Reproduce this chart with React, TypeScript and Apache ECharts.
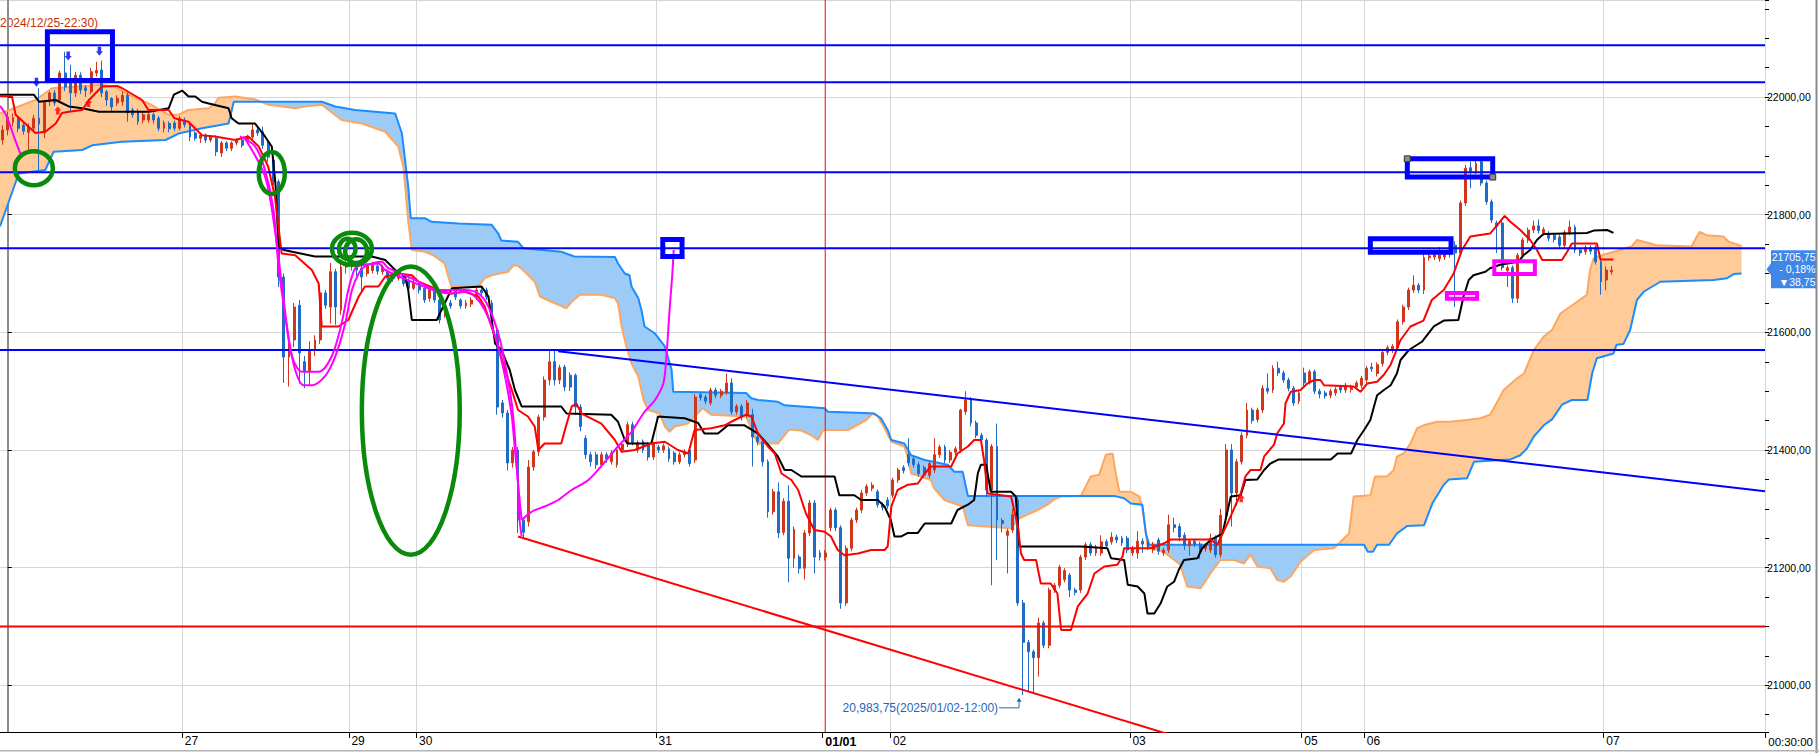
import { useEffect, useRef } from 'react';
import * as echarts from 'echarts';

type Pt = [number, number];

// ── scales (bar index on x, price on y) ──
const PRICE_TOP = 22165;
const PRICE_BOTTOM = 20920.6;
const SLOT_COUNT = 339;
const BAR_FIRST = -1.5;
const BAR_LAST = 337.5;

// time axis
const DAY_LABELS = ['27', '29', '30', '31', '01/01', '02', '03', '05', '06', '07'];
const DAY_START = [34, 66, 79, 125, 157, 170, 216, 249, 261, 307];
const YEAR_MARK = 157;

// candles [open, close, low, high]; the first one is bar -1, cut by the left edge
const CANDLES = [
  [21927, 21944, 21919, 21952],
  [21944, 21966, 21935, 21975], [21957, 21965, 21950, 21972], [21964, 21947, 21940, 21968], [21952, 21942, 21936, 21956],
  [21940, 21949, 21910, 21955], [21947, 21964, 21942, 21970], [21964, 21954, 21873, 22015], [21939, 21992, 21930, 21995],
  [21992, 22007, 21985, 22010], [22007, 21990, 21985, 22012], [21995, 22041, 21990, 22045], [22041, 22017, 22010, 22077],
  [22029, 22007, 21975, 22055], [22007, 22037, 22000, 22043], [22037, 22012, 22005, 22042], [22016, 22011, 22000, 22020],
  [22009, 22043, 22005, 22050], [22041, 22045, 22035, 22060], [22046, 22007, 22000, 22062], [22009, 21995, 21985, 22012],
  [21998, 21983, 21975, 22000], [21990, 21998, 21985, 22003], [21992, 22003, 21985, 22010], [22003, 21973, 21958, 22008],
  [21978, 21970, 21965, 21982], [21975, 21958, 21953, 21980], [21961, 21970, 21955, 21975], [21961, 21970, 21956, 21974],
  [21970, 21961, 21955, 21974], [21964, 21947, 21942, 21968], [21947, 21956, 21940, 21960], [21955, 21946, 21940, 21959],
  [21956, 21947, 21942, 21960], [21947, 21964, 21943, 21968], [21961, 21953, 21948, 21965], [21952, 21932, 21925, 21958],
  [21939, 21930, 21926, 21942], [21930, 21935, 21922, 21938], [21935, 21927, 21922, 21938], [21927, 21932, 21923, 21935],
  [21930, 21907, 21900, 21935], [21905, 21922, 21898, 21925], [21922, 21913, 21908, 21925], [21913, 21922, 21908, 21925],
  [21922, 21927, 21918, 21930], [21927, 21918, 21914, 21930], [21927, 21932, 21922, 21936], [21932, 21944, 21928, 21956],
  [21944, 21939, 21934, 21950], [21941, 21918, 21912, 21950], [21922, 21898, 21890, 21925], [21893, 21856, 21850, 21896],
  [21856, 21694, 21677, 21860], [21694, 21558, 21514, 21700], [21558, 21587, 21508, 21597], [21587, 21643, 21575, 21650],
  [21646, 21565, 21513, 21655], [21550, 21533, 21505, 21560], [21533, 21570, 21510, 21585], [21570, 21587, 21560, 21595],
  [21587, 21667, 21580, 21680], [21667, 21646, 21640, 21672], [21643, 21703, 21615, 21718], [21703, 21643, 21613, 21708],
  [21638, 21711, 21630, 21720], [21711, 21718, 21700, 21725], [21715, 21722, 21705, 21730], [21718, 21706, 21695, 21722],
  [21709, 21694, 21670, 21713], [21700, 21713, 21695, 21718], [21705, 21715, 21700, 21720], [21713, 21704, 21698, 21717],
  [21703, 21711, 21698, 21715], [21703, 21692, 21688, 21707], [21698, 21692, 21686, 21702], [21692, 21701, 21688, 21705],
  [21697, 21683, 21678, 21700], [21689, 21675, 21670, 21692], [21675, 21685, 21672, 21690], [21683, 21672, 21666, 21687],
  [21675, 21655, 21650, 21680], [21658, 21675, 21652, 21680], [21672, 21655, 21650, 21676], [21655, 21621, 21615, 21658],
  [21630, 21645, 21625, 21650], [21650, 21645, 21640, 21655], [21672, 21660, 21655, 21677], [21655, 21645, 21640, 21658],
  [21645, 21650, 21640, 21655], [21648, 21655, 21643, 21660], [21660, 21672, 21655, 21676], [21672, 21667, 21662, 21676],
  [21672, 21660, 21655, 21676], [21650, 21610, 21605, 21655], [21604, 21473, 21460, 21610], [21480, 21463, 21455, 21485],
  [21463, 21378, 21365, 21468], [21378, 21400, 21370, 21405], [21400, 21281, 21259, 21405], [21281, 21260, 21252, 21285],
  [21278, 21371, 21270, 21383], [21371, 21397, 21365, 21400], [21397, 21456, 21390, 21460], [21456, 21519, 21450, 21525],
  [21519, 21550, 21510, 21570], [21550, 21519, 21510, 21570], [21519, 21540, 21512, 21545], [21541, 21507, 21500, 21545],
  [21527, 21507, 21500, 21532], [21527, 21473, 21460, 21530], [21473, 21440, 21432, 21478], [21420, 21392, 21385, 21425],
  [21392, 21380, 21372, 21397], [21392, 21375, 21368, 21397], [21375, 21392, 21370, 21397], [21392, 21385, 21378, 21396],
  [21380, 21395, 21375, 21400], [21375, 21400, 21370, 21405], [21400, 21410, 21395, 21415], [21410, 21443, 21405, 21448],
  [21443, 21413, 21408, 21448], [21400, 21412, 21395, 21416], [21415, 21400, 21395, 21418], [21410, 21388, 21382, 21414],
  [21388, 21410, 21383, 21414], [21405, 21400, 21395, 21409], [21400, 21407, 21395, 21411], [21402, 21385, 21380, 21406],
  [21395, 21380, 21375, 21398], [21380, 21392, 21376, 21396], [21392, 21397, 21387, 21401], [21400, 21377, 21372, 21403],
  [21383, 21490, 21378, 21495], [21494, 21489, 21484, 21498], [21490, 21483, 21478, 21494], [21480, 21502, 21476, 21506],
  [21502, 21493, 21488, 21506], [21493, 21500, 21488, 21504], [21498, 21514, 21494, 21530], [21514, 21465, 21460, 21522],
  [21465, 21474, 21460, 21478], [21474, 21456, 21450, 21478], [21460, 21480, 21455, 21485], [21460, 21422, 21372, 21470],
  [21422, 21414, 21408, 21426], [21414, 21380, 21372, 21418], [21380, 21295, 21285, 21384], [21295, 21329, 21290, 21334],
  [21329, 21259, 21250, 21345], [21260, 21313, 21255, 21318], [21313, 21216, 21175, 21340], [21216, 21265, 21200, 21270],
  [21218, 21199, 21190, 21222], [21199, 21259, 21180, 21264], [21259, 21310, 21254, 21315], [21310, 21218, 21190, 21315],
  [21225, 21218, 21212, 21230], [21218, 21225, 21212, 21230], [21268, 21298, 21262, 21302], [21298, 21268, 21262, 21302],
  [21268, 21140, 21130, 21272], [21140, 21233, 21135, 21238], [21233, 21281, 21228, 21285], [21281, 21298, 21276, 21302],
  [21298, 21327, 21293, 21332], [21327, 21338, 21322, 21342], [21335, 21340, 21330, 21345], [21329, 21307, 21302, 21333],
  [21307, 21302, 21297, 21311], [21315, 21305, 21300, 21320], [21323, 21349, 21318, 21353], [21349, 21366, 21344, 21370],
  [21370, 21365, 21360, 21374], [21392, 21378, 21372, 21420], [21385, 21375, 21370, 21390], [21375, 21360, 21355, 21380],
  [21370, 21357, 21352, 21374], [21357, 21377, 21352, 21382], [21366, 21392, 21361, 21420], [21392, 21405, 21387, 21409],
  [21405, 21383, 21378, 21409], [21383, 21396, 21378, 21400], [21396, 21402, 21391, 21406], [21400, 21468, 21395, 21470],
  [21465, 21485, 21460, 21500], [21485, 21446, 21440, 21490], [21446, 21425, 21420, 21450], [21425, 21417, 21412, 21429],
  [21417, 21332, 21320, 21420], [21332, 21406, 21170, 21410], [21406, 21281, 21213, 21445], [21280, 21275, 21260, 21284],
  [21255, 21262, 21190, 21266], [21264, 21290, 21259, 21300], [21315, 21140, 21135, 21320], [21140, 21073, 20983.75, 21145],
  [21073, 21057, 20990, 21077], [21057, 21047, 20985, 21061], [21047, 21106, 21015, 21115], [21106, 21068, 21063, 21110],
  [21068, 21162, 21063, 21166], [21162, 21170, 21157, 21174], [21170, 21201, 21165, 21205], [21180, 21195, 21175, 21199],
  [21187, 21162, 21150, 21191], [21162, 21158, 21153, 21166], [21162, 21218, 21157, 21222], [21218, 21239, 21213, 21243],
  [21239, 21225, 21220, 21243], [21225, 21235, 21220, 21239], [21225, 21244, 21220, 21255], [21244, 21237, 21232, 21248],
  [21244, 21252, 21239, 21260], [21252, 21247, 21242, 21256], [21250, 21242, 21237, 21254], [21250, 21230, 21225, 21254],
  [21225, 21233, 21220, 21237], [21225, 21245, 21215, 21262], [21245, 21240, 21225, 21250], [21243, 21235, 21230, 21247],
  [21230, 21240, 21225, 21244], [21247, 21228, 21222, 21251], [21225, 21230, 21220, 21234], [21230, 21273, 21225, 21290],
  [21273, 21268, 21260, 21285], [21270, 21252, 21245, 21275], [21255, 21238, 21230, 21260], [21237, 21245, 21220, 21248],
  [21245, 21240, 21235, 21249], [21240, 21230, 21215, 21244], [21232, 21238, 21227, 21242], [21230, 21250, 21225, 21258],
  [21250, 21222, 21217, 21255], [21222, 21289, 21217, 21300], [21289, 21400, 21284, 21410], [21400, 21327, 21270, 21410],
  [21327, 21380, 21305, 21385], [21380, 21425, 21375, 21430], [21425, 21468, 21420, 21480], [21468, 21450, 21445, 21472],
  [21452, 21468, 21447, 21472], [21468, 21505, 21463, 21510], [21505, 21500, 21495, 21530], [21502, 21539, 21497, 21544],
  [21539, 21531, 21526, 21550], [21531, 21519, 21514, 21535], [21519, 21505, 21500, 21523], [21505, 21480, 21475, 21509],
  [21483, 21497, 21478, 21501], [21531, 21514, 21509, 21540], [21516, 21533, 21511, 21537], [21533, 21500, 21495, 21537],
  [21500, 21495, 21488, 21504], [21497, 21492, 21487, 21501], [21493, 21500, 21488, 21504], [21497, 21503, 21492, 21507],
  [21507, 21502, 21497, 21511], [21502, 21510, 21497, 21514], [21503, 21507, 21498, 21511], [21507, 21514, 21502, 21518],
  [21510, 21522, 21505, 21526], [21519, 21539, 21514, 21543], [21541, 21538, 21533, 21548], [21530, 21545, 21525, 21549],
  [21547, 21566, 21542, 21570], [21566, 21574, 21561, 21578], [21570, 21576, 21565, 21580], [21574, 21618, 21569, 21622],
  [21618, 21643, 21613, 21647], [21643, 21672, 21638, 21676], [21672, 21680, 21667, 21697], [21680, 21672, 21667, 21684],
  [21672, 21727, 21665, 21735], [21727, 21730, 21722, 21734], [21728, 21732, 21723, 21736], [21725, 21732, 21720, 21745],
  [21728, 21735, 21723, 21740], [21732, 21740, 21727, 21752], [21748, 21735, 21643, 21755], [21735, 21820, 21730, 21824],
  [21820, 21879, 21815, 21885], [21880, 21874, 21845, 21890], [21874, 21887, 21869, 21892], [21890, 21854, 21849, 21895],
  [21854, 21822, 21817, 21858], [21822, 21791, 21786, 21826], [21786, 21780, 21735, 21790], [21786, 21710, 21705, 21790],
  [21705, 21710, 21677, 21714], [21710, 21658, 21650, 21714], [21658, 21731, 21650, 21735], [21731, 21757, 21726, 21761],
  [21757, 21774, 21752, 21778], [21774, 21781, 21769, 21790], [21781, 21773, 21768, 21792], [21769, 21775, 21764, 21779],
  [21768, 21760, 21755, 21772], [21765, 21758, 21753, 21769], [21762, 21748, 21743, 21766], [21748, 21770, 21743, 21774],
  [21770, 21779, 21765, 21790], [21779, 21740, 21735, 21783], [21740, 21735, 21730, 21744], [21737, 21744, 21732, 21748],
  [21744, 21738, 21733, 21748], [21744, 21720, 21715, 21748], [21720, 21686, 21664, 21724], [21689, 21706, 21672, 21712],
  [21703, 21705.75, 21698, 21713],
];

// Ichimoku lines as [bar, price] break points
const TENKAN: Pt[] = [
  [-1.5, 22002], [0.8, 22001], [1.5, 21970], [5.3, 21939], [7.2, 21941], [9.2, 21955], [10.4, 21973], [11.7, 21975],
  [14.3, 21978], [15.6, 21995], [18.1, 22018], [21, 22019], [22, 22015], [25.8, 21995], [27, 21978], [30.9, 21978],
  [32, 21964], [34.7, 21958], [37.3, 21935], [39.8, 21933], [43.7, 21927], [46.2, 21933], [48.2, 21916], [50, 21882],
  [51.3, 21831], [52.6, 21734], [55.2, 21731], [58.4, 21706], [59.7, 21683], [60.3, 21610], [63.5, 21610], [65.4, 21621],
  [67.4, 21661], [68.6, 21678], [71.2, 21678], [72.5, 21695], [75, 21700], [77.6, 21697], [78.9, 21686], [82.7, 21672],
  [85.2, 21666], [87.8, 21669], [90.4, 21661], [91.6, 21644], [92.9, 21610], [94.2, 21576], [95.5, 21536], [96.8, 21502],
  [98, 21468], [99.9, 21457], [101.2, 21440], [101.9, 21400], [103.1, 21411], [106.3, 21411], [107, 21434], [108.3, 21474],
  [109.2, 21479], [110.2, 21462], [114, 21445], [116.6, 21417], [117.9, 21397], [120.4, 21400], [123.6, 21411],
  [126.2, 21414], [128.7, 21400], [130.7, 21394], [131.9, 21434], [135.1, 21437], [137.7, 21442], [139.6, 21451],
  [141.8, 21460], [142.8, 21457], [144.1, 21428], [146, 21406], [147.3, 21394], [148.6, 21360], [150.5, 21349],
  [151.8, 21332], [153.3, 21292], [154.9, 21264], [156.9, 21261], [158.1, 21253], [159.4, 21230], [160.7, 21221],
  [163.3, 21224], [165.8, 21230], [168.4, 21230], [169, 21236], [169.7, 21304], [170.9, 21332], [172.9, 21341],
  [174.8, 21343], [176.1, 21360], [177.3, 21372], [181.2, 21372], [182.4, 21394], [184.4, 21406], [185.6, 21417],
  [186.9, 21417], [187.5, 21383], [188.2, 21326], [192.7, 21321], [194, 21270], [194.6, 21224], [195.2, 21213],
  [197.5, 21213], [198.4, 21173], [200.3, 21173], [201.6, 21156], [202.3, 21094], [204.2, 21094], [205.5, 21134],
  [207.4, 21156], [208.7, 21190], [210.6, 21202], [213.1, 21205], [214.1, 21219], [214.4, 21233], [219.5, 21233],
  [222, 21241], [223.4, 21248], [231, 21248], [232.3, 21239], [234.5, 21280], [236.8, 21326], [237.7, 21355],
  [238.7, 21366], [240.6, 21366], [241.3, 21389], [243.2, 21409], [243.8, 21428], [245.1, 21445], [245.4, 21479],
  [246.4, 21499], [248.3, 21502], [249.6, 21513], [250.9, 21519], [252.1, 21519], [252.8, 21510], [258.5, 21508],
  [259.8, 21499], [261.1, 21513], [263, 21516], [264.3, 21528], [265.6, 21545], [267.5, 21587], [269.4, 21610],
  [271.9, 21620], [273.5, 21655], [275.8, 21672], [277.7, 21700], [279.3, 21740], [280.9, 21763], [284.7, 21768],
  [286.3, 21785], [287.5, 21798], [288.6, 21788], [290.5, 21774], [292.4, 21757], [293.7, 21740], [294.7, 21723],
  [298.5, 21723], [299.5, 21737], [300.4, 21751], [305.2, 21751], [305.9, 21724], [308.4, 21724],
];

const KIJUN: Pt[] = [
  [-1.5, 22004], [5, 22004], [6, 21992], [9.2, 21995], [11.7, 21984], [14.3, 21981], [17.5, 21975], [27.1, 21975],
  [30.9, 21981], [31.9, 22004], [33.5, 22011], [34.7, 22001], [36, 22001], [37.3, 21992], [38.6, 21989], [42.4, 21981],
  [43, 21964], [44.3, 21955], [47.5, 21955], [49.4, 21933], [50.7, 21916], [51.4, 21853], [52, 21746], [53, 21740],
  [59, 21729], [69.9, 21729], [72.5, 21723], [74.4, 21706], [76.3, 21695], [76.9, 21672], [77.6, 21621], [82.4, 21621],
  [83.3, 21638], [85.3, 21675], [91, 21678], [92.3, 21661], [93.6, 21581], [94.8, 21570], [96.4, 21536], [97.4, 21502],
  [98.7, 21474], [106.3, 21474], [107.3, 21462], [115.9, 21460], [117.2, 21448], [118.5, 21417], [119.1, 21411],
  [123.6, 21411], [124.9, 21457], [130, 21454], [132.6, 21446], [133.8, 21428], [136.4, 21428], [138.3, 21442],
  [141.5, 21442], [144.1, 21428], [146, 21409], [147.9, 21389], [149.2, 21366], [150.5, 21366], [152.4, 21355],
  [158.8, 21355], [159.7, 21323], [162.6, 21323], [163.9, 21315], [167.1, 21315], [168.4, 21304], [169.6, 21281],
  [170.3, 21253], [171.6, 21253], [172.9, 21259], [174.8, 21259], [176.1, 21275], [181.2, 21275], [182.4, 21298],
  [184.4, 21307], [185.6, 21315], [186.3, 21360], [186.9, 21375], [187.9, 21375], [188.8, 21329], [192.7, 21329],
  [193.6, 21321], [194.3, 21236], [206.1, 21236], [211.2, 21233], [211.9, 21216], [214.4, 21213], [215.1, 21171],
  [217, 21168], [218.3, 21156], [218.9, 21122], [220.2, 21122], [221.4, 21139], [222.7, 21168], [224, 21176],
  [224.9, 21196], [225.9, 21213], [228.5, 21216], [229.4, 21233], [231, 21247], [233.3, 21258], [234.9, 21321],
  [236.8, 21323], [237.7, 21349], [240, 21350], [241.3, 21366], [242.5, 21377], [244.1, 21384], [254.1, 21384],
  [255.4, 21394], [258, 21394], [259.2, 21417], [260.5, 21434], [261.7, 21451], [262.4, 21474], [263, 21493],
  [264.3, 21502], [265.6, 21510], [266.8, 21530], [267.5, 21553], [269.1, 21570], [271.6, 21584], [273.9, 21610],
  [275.8, 21620], [278.6, 21621], [279.6, 21661], [280.6, 21689], [281.5, 21697], [283.8, 21703], [284.7, 21709],
  [286.6, 21715], [290.1, 21720], [291.1, 21731], [292.4, 21740], [293.7, 21757], [294.9, 21767], [303.3, 21769],
  [304.6, 21773], [307.2, 21774], [308.4, 21769],
];

const SPAN_A: Pt[] = [
  [-1.5, 21972], [5.3, 21995], [8.5, 22015], [18.1, 22021], [20.7, 22017], [24.5, 21998], [27.1, 21989], [30.9, 21970],
  [32.8, 21970], [34.7, 21978], [38.6, 21981], [39.8, 21989], [40.5, 21999], [43.7, 22001], [47.5, 21996], [50.1, 21987],
  [55.2, 21981], [57.8, 21985], [60.3, 21987], [64.1, 21961], [68, 21955], [72.5, 21941], [75, 21916], [76, 21880],
  [76.9, 21790], [77.6, 21740], [80.1, 21737], [81.7, 21731], [83.9, 21717], [84.6, 21695], [85.2, 21678], [90.4, 21678],
  [91.6, 21692], [92.9, 21697], [96.1, 21703], [97.1, 21714], [98, 21713], [99.3, 21703], [101.2, 21686], [102.2, 21661],
  [104.4, 21652], [107.3, 21641], [108.3, 21652], [109.9, 21664], [114, 21664], [116.6, 21658], [117.2, 21649],
  [117.9, 21610], [118.8, 21576], [119.8, 21547], [121.1, 21525], [122.1, 21485], [123, 21468], [125.2, 21462],
  [126.2, 21440], [127.1, 21431], [128.1, 21440], [130.6, 21445], [131.9, 21457], [133.5, 21471], [135.1, 21460],
  [141.8, 21457], [143.4, 21423], [144.1, 21411], [147.9, 21411], [150.1, 21435], [152.4, 21433], [154.3, 21425],
  [155.6, 21417], [156.6, 21434], [161.4, 21434], [164.9, 21451], [166.1, 21462], [167.1, 21457], [168.1, 21442],
  [169.7, 21414], [172.2, 21406], [172.9, 21386], [173.5, 21360], [175.4, 21355], [177.3, 21349], [177.9, 21335],
  [179.9, 21315], [183.4, 21304], [184.4, 21272], [192.7, 21267], [194.3, 21284], [197.8, 21298], [199.7, 21307],
  [201, 21316], [202.3, 21321], [206.1, 21322], [208, 21355], [209.6, 21358], [210.9, 21392], [212.2, 21394],
  [212.8, 21360], [213.5, 21329], [215.7, 21329], [217.3, 21321], [217.9, 21304], [218.9, 21236], [222, 21227],
  [225.2, 21205], [226.5, 21168], [229.1, 21165], [231, 21190], [232.9, 21213], [235.5, 21213], [237.4, 21207],
  [238.7, 21222], [240, 21202], [242.5, 21199], [243.8, 21179], [245.1, 21176], [246.4, 21185], [248.3, 21210],
  [250.9, 21230], [254.7, 21233], [256, 21244], [257.6, 21258], [258.5, 21321], [261.7, 21323], [262.6, 21355],
  [264.9, 21355], [266.2, 21366], [266.8, 21389], [268.1, 21394], [269.4, 21411], [270.7, 21437], [271.9, 21442],
  [274.5, 21448], [277, 21448], [280.3, 21451], [282.8, 21454], [284.7, 21460], [286.6, 21490], [287.3, 21502],
  [289.9, 21522], [291.2, 21530], [293.1, 21570], [295, 21593], [296.6, 21604], [298.2, 21632], [301.4, 21652],
  [303.3, 21664], [303.9, 21706], [304.6, 21726], [306.2, 21731], [311.9, 21746], [312.9, 21757], [314.2, 21754],
  [316.7, 21748], [323.4, 21746], [324.4, 21763], [325, 21771], [326.3, 21765], [329.5, 21763], [330.5, 21754],
  [333, 21747],
];

const SPAN_B: Pt[] = [
  [-1.5, 21780], [2.1, 21870], [7.2, 21876], [8.8, 21907], [14.3, 21910], [16.2, 21918], [21.9, 21924], [30.3, 21927],
  [32.8, 21938], [37.3, 21947], [42.4, 21955], [43.4, 21992], [60.3, 21992], [62.9, 21984], [66.7, 21978], [74.4, 21972],
  [75.7, 21938], [76.9, 21848], [77.4, 21794], [80.1, 21794], [81.4, 21788], [86.5, 21785], [92.9, 21783], [94.2, 21768],
  [94.8, 21756], [98, 21754], [99, 21743], [106.3, 21737], [108.8, 21729], [116.6, 21728], [117.2, 21717], [118.5, 21700],
  [119.4, 21697], [119.8, 21678], [121.1, 21658], [121.7, 21638], [122.3, 21610], [124.3, 21598], [126.2, 21576],
  [127.5, 21536], [127.8, 21499], [141.8, 21497], [142.8, 21488], [144.1, 21485], [147.9, 21482], [149.2, 21476],
  [152.4, 21474], [156.9, 21471], [157.5, 21465], [164.5, 21463], [166.4, 21462], [167.7, 21454], [169, 21434],
  [169.7, 21417], [172.2, 21411], [173.5, 21391], [176.1, 21383], [180.5, 21375], [181.8, 21363], [183.4, 21363],
  [184.4, 21322], [212.5, 21322], [214.4, 21318], [215.7, 21309], [217.9, 21307], [218.6, 21258], [219.2, 21239],
  [260.5, 21239], [261.2, 21227], [262.2, 21227], [263, 21239], [265.3, 21239], [266.8, 21258], [268.8, 21271],
  [272, 21272], [273.6, 21309], [275.8, 21341], [276.8, 21350], [280.3, 21352], [281.6, 21380], [286.7, 21383],
  [288.6, 21384], [290.5, 21391], [291.8, 21403], [293.1, 21423], [295, 21442], [296.6, 21452], [298.5, 21477],
  [300.4, 21485], [303.4, 21485], [304.3, 21530], [305.2, 21556], [308.4, 21564], [309, 21579], [310.3, 21580],
  [311.6, 21604], [312.9, 21655], [314.2, 21669], [317.4, 21686], [327.6, 21689], [330.2, 21692], [331.5, 21699],
  [333, 21700],
];

// hand-drawn magenta curves
const PEN_TOP_LEFT: Pt[] = [[-1.5, 21985], [-0.5, 21972], [0.5, 21950], [1.5, 21925], [2.4, 21904]];
const PEN_OUTER: Pt[] = [
  [44.6, 21933], [47.5, 21916], [49.4, 21876], [51, 21810], [52, 21712], [53.3, 21627], [54.6, 21559], [56.5, 21533],
  [59.7, 21533], [62.2, 21559], [64.1, 21615], [65.4, 21672], [66.7, 21709], [68, 21714], [71.2, 21717], [72.5, 21706],
  [77.6, 21686], [82.7, 21669], [85.2, 21666], [87.8, 21669], [89.7, 21661], [91.6, 21638], [93.6, 21593], [95.5, 21525],
  [96.8, 21457], [97.4, 21400], [98, 21343], [98.3, 21281], [98.7, 21253],
];
const PEN_INNER: Pt[] = [
  [45.3, 21933], [49.4, 21865], [51.4, 21768], [52.6, 21683], [53.9, 21593], [55.2, 21536], [56.8, 21510], [58.4, 21510],
  [60.9, 21525], [62.9, 21559], [64.8, 21615], [66.1, 21672], [67.4, 21700], [68.6, 21712], [71.8, 21720], [73.1, 21709],
  [77.6, 21692], [82.7, 21672], [87.8, 21672], [90.4, 21666], [92.3, 21644], [94.2, 21598], [95.5, 21547], [96.8, 21479],
  [97.4, 21423], [98, 21343], [98.7, 21281],
];
const PEN_RISE: Pt[] = [
  [98.7, 21281], [100.6, 21295], [103.1, 21304], [105.7, 21315], [108.3, 21332], [111.5, 21349], [114.7, 21380],
  [117.2, 21406], [119.8, 21431], [122.3, 21465], [124.3, 21485], [125.9, 21513], [126.5, 21559], [127.1, 21638],
  [127.6, 21695], [127.9, 21740],
];

// support / resistance
const LEVELS_BLUE = [22088, 22025, 21872, 21743, 21570];
const LEVELS_RED = [21100];
const TREND_BLUE: Pt[] = [[105.7, 21568], [337.5, 21330]];
const TREND_RED: Pt[] = [[98, 21253], [240, 20871]];

// markers
const SIGNAL_DOWN: Pt[] = [[5.5, 22025], [11.6, 22070], [17.6, 22078]];
const SIGNAL_UP: Pt[] = [[9.6, 21977], [15.5, 21990], [236.9, 21318]];

// drawings: ellipses [bar, price, radius in bars, radius in price]
const ELLIPSES = [
  [5.0, 21879, 3.65, 28.9],
  [50.7, 21871, 2.5, 35.7],
  [66.1, 21742, 3.84, 27.2],
  [66.9, 21738, 2.1, 20.4],
  [65.2, 21742, 1.6, 17],
  [77.4, 21467, 9.4, 245],
];
// boxes [bar0, top price, bar1, bottom price, selected]
const BLUE_BOXES = [
  [7.6, 22111, 20.1, 22028, 0],
  [125.8, 21758, 129.5, 21729, 0],
  [261.7, 21759, 277.2, 21736, 0],
  [268.8, 21895, 285.2, 21864, 1],
];
const PINK_BOXES = [
  [276.4, 21667, 282.2, 21657, 0],
  [285.5, 21721, 293.3, 21699, 0],
];

const LOW_POINT: Pt = [195, 20983.75];
const LOW_TEXT = '20,983,75(2025/01/02-12:00)';
const HIGH_TEXT = '2024/12/25-22:30)';
const LAST_PRICE = 21705.75;
const LAST_LINES = ['21705,75', '- 0,18%', '▼38,75'];
const CURSOR_TIME = '00:30:00';

const COLORS = {
  up: '#D2361A',
  down: '#1F6CC6',
  tenkan: '#FF0000',
  kijun: '#000000',
  spanA: '#FFA65E',
  spanB: '#1A8CFF',
  cloudUp: '#FFCC99',
  cloudDown: '#9CCBF8',
  level: '#0000FF',
  levelRed: '#FF0000',
  pen: '#FF00FF',
  ellipse: '#0A8A0A',
  grid: '#D6D6D6',
  note: '#1E66C0',
  tag: '#3E86E8',
};

const FONT = '"Liberation Sans", Arial, sans-serif';

function lineSeries(data: Pt[], color: string, width: number, z: number, extra: object = {}) {
  return {
    type: 'line',
    data,
    xAxisIndex: 1,
    yAxisIndex: 0,
    symbol: 'none',
    showSymbol: false,
    silent: true,
    lineStyle: { color, width },
    z,
    ...extra,
  };
}

// fills between span A and span B, orange where A is on top and blue where B is
function renderCloud(params: any, api: any) {
  const a: number[][] = SPAN_A.map((p) => api.coord(p));
  const b: number[][] = SPAN_B.map((p) => api.coord(p));
  const xs = Array.from(new Set([...a.map((p) => p[0]), ...b.map((p) => p[0])])).sort((m, n) => m - n);
  const yAt = (pts: number[][], x: number) => {
    for (let k = 1; k < pts.length; k++) {
      if (x <= pts[k][0]) {
        const [x0, y0] = pts[k - 1];
        const [x1, y1] = pts[k];
        const t = x1 === x0 ? 0 : (x - x0) / (x1 - x0);
        return y0 + t * (y1 - y0);
      }
    }
    return pts[pts.length - 1][1];
  };
  const children: any[] = [];
  let top: number[][] = [];
  let bottom: number[][] = [];
  let sign = 0;
  const flush = () => {
    if (top.length > 1) {
      children.push({
        type: 'polygon',
        shape: { points: [...top, ...bottom.slice().reverse()] },
        style: { fill: sign > 0 ? COLORS.cloudUp : COLORS.cloudDown },
      });
    }
  };
  for (let k = 0; k < xs.length; k++) {
    const x = xs[k];
    const ya = yAt(a, x);
    const yb = yAt(b, x);
    const s = Math.sign(yb - ya) || sign;
    if (k > 0 && sign !== 0 && s !== sign) {
      const px = xs[k - 1];
      const pya = yAt(a, px);
      const pyb = yAt(b, px);
      const d0 = pyb - pya;
      const d1 = yb - ya;
      const t = d0 / (d0 - d1);
      const cx = px + t * (x - px);
      const cy = pya + t * (ya - pya);
      top.push([cx, cy]);
      bottom.push([cx, cy]);
      flush();
      top = [[cx, cy]];
      bottom = [[cx, cy]];
    }
    sign = s;
    top.push([x, ya]);
    bottom.push([x, yb]);
  }
  flush();
  return { type: 'group', children };
}

function boxRenderer(stroke: string, width: number) {
  return (params: any, api: any) => {
    const p0 = api.coord([api.value(0), api.value(1)]);
    const p1 = api.coord([api.value(2), api.value(3)]);
    const children: any[] = [
      {
        type: 'rect',
        shape: { x: p0[0], y: p0[1], width: p1[0] - p0[0], height: p1[1] - p0[1] },
        style: { fill: 'none', stroke, lineWidth: width },
      },
    ];
    if (api.value(4) === 1) {
      for (const c of [p0, p1]) {
        children.push({
          type: 'rect',
          shape: { x: c[0] - 3, y: c[1] - 3, width: 6, height: 6 },
          style: { fill: '#8C8C8C', stroke: '#333', lineWidth: 1 },
        });
      }
    }
    return { type: 'group', children };
  };
}

export default function App() {
  const ref = useRef<HTMLDivElement>(null);

  useEffect(() => {
    if (!ref.current) return;
    const chart = echarts.init(ref.current, null, { renderer: 'svg' });

    const slots = Array.from({ length: SLOT_COUNT }, (_, k) => String(k - 1));
    const isDay = (v: string) => DAY_START.includes(Number(v));

    chart.setOption({
      animation: false,
      backgroundColor: '#ffffff',
      grid: { left: 0, right: 54, top: 0, bottom: 21 },
      xAxis: [
        {
          type: 'category',
          data: slots,
          boundaryGap: true,
          axisLine: { lineStyle: { color: '#000', width: 1 } },
          axisTick: {
            show: true,
            length: 6,
            interval: (_i: number, v: string) => isDay(v),
            lineStyle: { color: '#000' },
          },
          axisLabel: {
            interval: (_i: number, v: string) => isDay(v),
            formatter: (v: string) => {
              const d = DAY_START.indexOf(Number(v));
              if (d < 0) return '';
              return DAY_START[d] === YEAR_MARK ? `{b|${DAY_LABELS[d]}}` : DAY_LABELS[d];
            },
            align: 'left',
            margin: 3,
            color: '#000',
            fontSize: 12,
            fontFamily: FONT,
            rich: { b: { fontWeight: 'bold', fontSize: 12.5, fontFamily: FONT, color: '#000' } },
          },
          splitLine: {
            show: true,
            interval: (_i: number, v: string) => isDay(v) && Number(v) !== YEAR_MARK,
            lineStyle: { color: COLORS.grid, width: 1 },
          },
        },
        { type: 'value', min: BAR_FIRST, max: BAR_LAST, show: false },
      ],
      yAxis: [
        {
          type: 'value',
          position: 'right',
          min: PRICE_BOTTOM,
          max: PRICE_TOP,
          minInterval: 200,
          maxInterval: 200,
          axisLine: { show: true, lineStyle: { color: '#8C8C8C', width: 2 } },
          axisTick: { show: true, length: 4, lineStyle: { color: '#000' } },
          axisLabel: {
            showMinLabel: false,
            showMaxLabel: false,
            margin: 2,
            color: '#000',
            fontSize: 10.5,
            fontFamily: FONT,
            formatter: (v: number) => (Math.abs(v % 200) < 0.01 ? v.toFixed(2).replace('.', ',') : ''),
          },
          splitLine: { show: true, lineStyle: { color: COLORS.grid, width: 1 } },
        },
        {
          type: 'value',
          position: 'right',
          min: PRICE_BOTTOM,
          max: PRICE_TOP,
          minInterval: 50,
          maxInterval: 50,
          axisLine: { show: false },
          axisTick: { show: true, length: 4, lineStyle: { color: '#000' } },
          axisLabel: { show: false },
          splitLine: { show: false },
        },
      ],
      series: [
        {
          type: 'custom',
          xAxisIndex: 1,
          yAxisIndex: 0,
          data: [SPAN_A[0]],
          encode: { x: 0, y: 1 },
          renderItem: renderCloud,
          silent: true,
          clip: true,
          z: 1,
        },
        lineSeries(SPAN_A, COLORS.spanA, 2, 2),
        lineSeries(SPAN_B, COLORS.spanB, 2, 2),
        lineSeries([[YEAR_MARK, PRICE_BOTTOM], [YEAR_MARK, PRICE_TOP]], COLORS.levelRed, 1, 2),
        {
          type: 'candlestick',
          data: CANDLES,
          xAxisIndex: 0,
          yAxisIndex: 0,
          barWidth: 2.4,
          silent: true,
          z: 3,
          itemStyle: {
            color: COLORS.up,
            color0: COLORS.down,
            borderColor: COLORS.up,
            borderColor0: COLORS.down,
            borderWidth: 1,
          },
        },
        lineSeries(KIJUN, COLORS.kijun, 2, 4),
        lineSeries(TENKAN, COLORS.tenkan, 2, 4),
        ...LEVELS_BLUE.map((v) => lineSeries([[BAR_FIRST, v], [BAR_LAST, v]], COLORS.level, 2, 5)),
        ...LEVELS_RED.map((v) => lineSeries([[BAR_FIRST, v], [BAR_LAST, v]], COLORS.levelRed, 2, 5)),
        lineSeries(TREND_BLUE, COLORS.level, 2, 5),
        lineSeries(TREND_RED, COLORS.levelRed, 2, 5),
        lineSeries(PEN_TOP_LEFT, COLORS.pen, 2, 6, { smooth: 0.3 }),
        lineSeries(PEN_OUTER, COLORS.pen, 2, 6, { smooth: 0.3 }),
        lineSeries(PEN_INNER, COLORS.pen, 2, 6, { smooth: 0.3 }),
        lineSeries(PEN_RISE, COLORS.pen, 2, 6, { smooth: 0.3 }),
        {
          type: 'scatter',
          xAxisIndex: 1,
          yAxisIndex: 0,
          data: SIGNAL_DOWN,
          symbol: 'path://M2,0 H6 V5 H8 L4,10 L0,5 H2 Z',
          symbolSize: [7, 9],
          itemStyle: { color: COLORS.level },
          silent: true,
          z: 7,
        },
        {
          type: 'scatter',
          xAxisIndex: 1,
          yAxisIndex: 0,
          data: SIGNAL_UP,
          symbol: 'path://M4,0 L8,5 H6 V10 H2 V5 H0 Z',
          symbolSize: [7, 8],
          itemStyle: { color: COLORS.levelRed },
          silent: true,
          z: 7,
        },
        {
          type: 'custom',
          xAxisIndex: 1,
          yAxisIndex: 0,
          data: ELLIPSES,
          encode: { x: 0, y: 1 },
          silent: true,
          clip: true,
          z: 8,
          renderItem: (params: any, api: any) => {
            const c = api.coord([api.value(0), api.value(1)]);
            const s = api.size([api.value(2), api.value(3)]);
            return {
              type: 'ellipse',
              shape: { cx: c[0], cy: c[1], rx: s[0], ry: s[1] },
              style: { fill: 'none', stroke: COLORS.ellipse, lineWidth: 4.5 },
            };
          },
        },
        {
          type: 'custom',
          xAxisIndex: 1,
          yAxisIndex: 0,
          data: BLUE_BOXES,
          encode: { x: [0, 2], y: [1, 3] },
          silent: true,
          z: 8,
          renderItem: boxRenderer(COLORS.level, 5),
        },
        {
          type: 'custom',
          xAxisIndex: 1,
          yAxisIndex: 0,
          data: PINK_BOXES,
          encode: { x: [0, 2], y: [1, 3] },
          silent: true,
          z: 8,
          renderItem: boxRenderer(COLORS.pen, 4),
        },
        {
          type: 'custom',
          xAxisIndex: 1,
          yAxisIndex: 0,
          data: [LOW_POINT],
          encode: { x: 0, y: 1 },
          silent: true,
          clip: false,
          z: 8,
          renderItem: (params: any, api: any) => {
            const p = api.coord([api.value(0), api.value(1)]);
            const ax = p[0] - 4;
            const tip = p[1] + 3;
            const base = p[1] + 13;
            return {
              type: 'group',
              children: [
                {
                  type: 'polyline',
                  shape: { points: [[ax - 20, base], [ax, base], [ax, tip + 3]] },
                  style: { stroke: COLORS.note, lineWidth: 1, fill: 'none' },
                },
                {
                  type: 'polygon',
                  shape: { points: [[ax - 2.5, tip + 4], [ax + 2.5, tip + 4], [ax, tip]] },
                  style: { fill: COLORS.note },
                },
                {
                  type: 'text',
                  style: {
                    text: LOW_TEXT,
                    x: ax - 21,
                    y: base,
                    align: 'right',
                    verticalAlign: 'middle',
                    fill: COLORS.note,
                    fontSize: 12,
                    fontFamily: FONT,
                  },
                },
              ],
            };
          },
        },
      ],
    });

    // price tag on the axis, placed from the last close
    const py = chart.convertToPixel({ yAxisIndex: 0 }, LAST_PRICE) as number;
    chart.setOption({
      graphic: [
        {
          type: 'text',
          left: 0,
          top: 17,
          style: { text: HIGH_TEXT, fill: '#C83200', fontSize: 12, fontFamily: FONT },
        },
        {
          type: 'polygon',
          shape: {
            points: [
              [1766.5, py - 1], [1771, py - 7], [1771, py - 20], [1816, py - 20],
              [1816, py + 18], [1771, py + 18], [1771, py + 5],
            ],
          },
          style: { fill: COLORS.tag },
        },
        ...LAST_LINES.map((t, k) => ({
          type: 'text',
          style: {
            text: t,
            x: 1815.5,
            y: py - 13.5 + k * 12.5,
            align: 'right',
            verticalAlign: 'middle',
            fill: '#ffffff',
            fontSize: 10.5,
            fontFamily: FONT,
          },
        })),
        {
          type: 'text',
          style: {
            text: CURSOR_TIME,
            x: 1813,
            y: 742,
            align: 'right',
            verticalAlign: 'middle',
            fill: '#000',
            fontSize: 11.5,
            fontFamily: FONT,
          },
        },
        { type: 'rect', shape: { x: 1815.5, y: 0, width: 2, height: 753 }, style: { fill: '#8C8C8C' } },
        { type: 'rect', shape: { x: 0, y: 750, width: 1819, height: 1.5 }, style: { fill: '#B4B4B4' } },
      ],
    });

    return () => chart.dispose();
  }, []);

  return (
    <div
      ref={ref}
      style={{ position: 'fixed', left: 0, top: 0, width: 1819, height: 753, background: '#fff' }}
    />
  );
}
